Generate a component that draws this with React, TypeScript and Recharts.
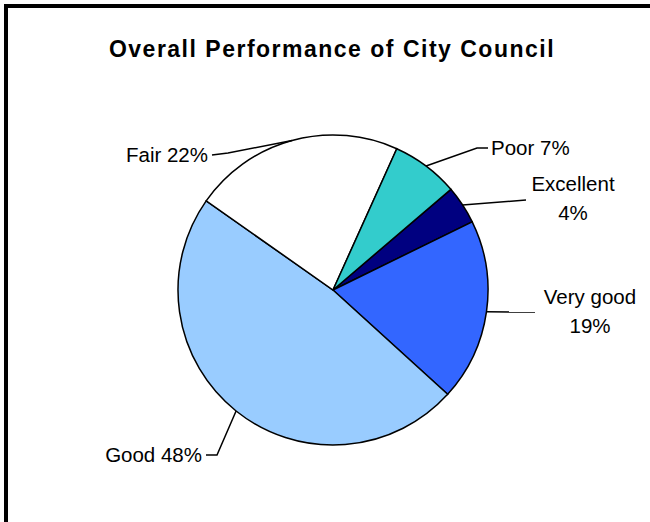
import { PieChart, Pie, Cell } from "recharts";

const CATEGORIES = ["Excellent", "Very good", "Good", "Fair", "Poor"];
const VALUES = [4, 19, 48, 22, 7];
const COLORS = ["#000080", "#3366FF", "#99CCFF", "#FFFFFF", "#33CCCC"];

const data = CATEGORIES.map((name, i) => ({ name, value: VALUES[i] }));

const RADIAN = Math.PI / 180;
const FONT = "'Liberation Sans', Arial, sans-serif";

// leader line elbows + text placement for each slice label
const LABEL_LAYOUT: Record<string, { pts: number[][]; x: number; y: number; anchor: "start" | "middle" | "end"; split: boolean }> = {
  Excellent: { pts: [[526, 200]], x: 573, y: 191, anchor: "middle", split: true },
  "Very good": { pts: [[535, 312]], x: 590, y: 304, anchor: "middle", split: true },
  Good: { pts: [[217, 455], [206, 455]], x: 202, y: 462, anchor: "end", split: false },
  Fair: { pts: [[228, 153], [212, 155]], x: 208, y: 162, anchor: "end", split: false },
  Poor: { pts: [[477, 148], [488, 148]], x: 491, y: 155, anchor: "start", split: false },
};

function renderLabel(props: any) {
  const { cx, cy, midAngle, outerRadius, name, value } = props;
  const lay = LABEL_LAYOUT[name];
  if (!lay) return null;
  const sx = cx + outerRadius * Math.cos(-midAngle * RADIAN);
  const sy = cy + outerRadius * Math.sin(-midAngle * RADIAN);
  const path = [[sx, sy], ...lay.pts].map((p, i) => `${i ? "L" : "M"}${p[0]},${p[1]}`).join(" ");
  const pct = `${value}%`;
  return (
    <g key={name}>
      <path d={path} stroke="#000" strokeWidth={1.5} fill="none" />
      {lay.split ? (
        <text x={lay.x} y={lay.y} textAnchor={lay.anchor} fontSize={20.5} fontFamily={FONT} fill="#000">
          <tspan x={lay.x}>{name}</tspan>
          <tspan x={lay.x} dy={29}>{pct}</tspan>
        </text>
      ) : (
        <text x={lay.x} y={lay.y} textAnchor={lay.anchor} fontSize={20.5} fontFamily={FONT} fill="#000">
          {`${name} ${pct}`}
        </text>
      )}
    </g>
  );
}

export default function App() {
  return (
    <div style={{ position: "absolute", left: 0, top: 0, width: 650, height: 522, background: "#fff", overflow: "hidden" }}>
      <svg width={650} height={522} style={{ position: "absolute", left: 0, top: 0 }}>
        <rect x={6} y={6} width={700} height={600} fill="none" stroke="#000" strokeWidth={4} />
        <text x={332} y={57} textAnchor="middle" fontSize={23} fontWeight="bold" fontFamily={FONT} letterSpacing={1.5} fill="#000">
          Overall Performance of City Council
        </text>
      </svg>
      <div style={{ position: "absolute", left: 0, top: 0 }}>
        <PieChart width={650} height={522} margin={{ top: 0, right: 0, bottom: 0, left: 0 }}>
          <Pie
            data={data}
            dataKey="value"
            nameKey="name"
            cx={333}
            cy={290}
            outerRadius={155}
            startAngle={40.5}
            endAngle={-319.5}
            stroke="#000"
            strokeWidth={1.5}
            label={renderLabel}
            labelLine={false}
            isAnimationActive={false}
          >
            {data.map((d, i) => (
              <Cell key={d.name} fill={COLORS[i]} />
            ))}
          </Pie>
        </PieChart>
      </div>
    </div>
  );
}
